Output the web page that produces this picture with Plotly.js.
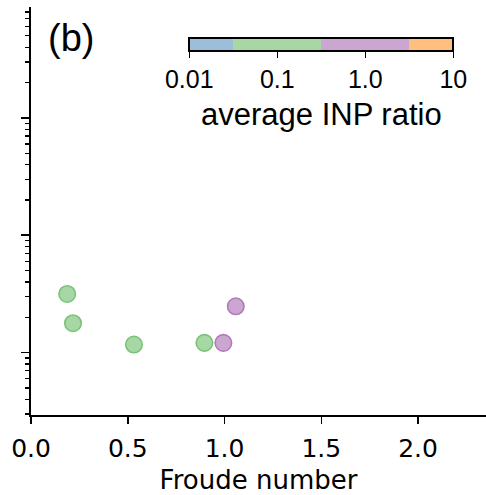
<!DOCTYPE html>
<html>
<head>
<meta charset="utf-8">
<script src="https://cdn.plot.ly/plotly-3.0.1.min.js"></script>
<style>html,body{margin:0;padding:0;background:#fff;}#chart{width:486px;height:495px;}</style>
</head>
<body>
<div id="chart"></div>
<script>
// Data
const froude = [0.187, 0.217, 0.532, 0.896, 0.994, 1.058];
const yValue = [3.16, 1.78, 1.17, 1.21, 1.21, 2.48];
const inpRatio = [0.1, 0.1, 0.1, 0.1, 1.0, 1.0]; // estimated from colour bins

// Colour bins (half-decade edges in log10) and colours
const binEdgesLog = [-2, -1.5, -0.5, 0.5, 1];
const binFill = ['#9bbedb', '#a6d7a4', '#cba6d1', '#ffbf7f'];
const binEdge = ['#699eca', '#79c377', '#b27aba', '#ff9f40'];
const cbTickVals = [-2, -1, 0, 1];
const cbTickText = ['0.01', '0.1', '1.0', '10'];
const xTickVals = [0, 0.5, 1, 1.5, 2];
const xTickText = ['0.0', '0.5', '1.0', '1.5', '2.0'];
const yMajor = [1, 10, 100];

const cmin = binEdgesLog[0], cmax = binEdgesLog[binEdgesLog.length - 1];
const colorscale = [];
for (let i = 0; i < binFill.length; i++) {
  colorscale.push([(binEdgesLog[i] - cmin) / (cmax - cmin), binFill[i]]);
  colorscale.push([(binEdgesLog[i + 1] - cmin) / (cmax - cmin), binFill[i]]);
}
const logRatio = inpRatio.map(v => Math.log10(v));
function binOf(l) {
  for (let i = 0; i < binFill.length; i++) if (l < binEdgesLog[i + 1]) return i;
  return binFill.length - 1;
}
const lineColors = logRatio.map(l => binEdge[binOf(l)]);

const yMinor = [];
[0.1, 1, 10, 100, 1000].forEach(d => { for (let k = 2; k <= 9; k++) yMinor.push(k * d); });

const trace = {
  type: 'scatter', mode: 'markers', x: froude, y: yValue,
  marker: {
    size: 16.5, color: logRatio, cmin: cmin, cmax: cmax, colorscale: colorscale,
    line: {color: lineColors, width: 1.6},
    showscale: true,
    colorbar: {
      orientation: 'h', x: 0.638, xanchor: 'center', y: 0.924, yanchor: 'top',
      len: 0.58, lenmode: 'fraction', thickness: 13, thicknessmode: 'pixels',
      xpad: 0, ypad: 0, outlinewidth: 2, outlinecolor: '#000',
      tickmode: 'array', tickvals: cbTickVals, ticktext: cbTickText,
      ticks: 'outside', ticklen: 6, tickwidth: 1.5, tickcolor: '#000',
      tickfont: {family: 'Liberation Sans', size: 25, color: '#000'}
    }
  },
  hoverinfo: 'skip'
};

const layout = {
  width: 486, height: 495,
  margin: {l: 31, r: 0, t: 7, b: 80},
  paper_bgcolor: '#fff', plot_bgcolor: '#fff',
  showlegend: false,
  xaxis: {
    range: [0, 2.351], tickmode: 'array', tickvals: xTickVals, ticktext: xTickText,
    ticks: 'outside', ticklen: 7, tickwidth: 1.5, tickcolor: '#000', ticklabelstandoff: 3,
    showline: true, linewidth: 1.8, linecolor: '#000', showgrid: false, zeroline: false,
    tickfont: {family: 'DejaVu Sans', size: 25, color: '#000'},
    title: {text: 'Froude number', font: {family: 'DejaVu Sans', size: 26, color: '#000'}, standoff: 14}
  },
  yaxis: {
    type: 'log', range: [-0.532, 2.945], tickmode: 'array', tickvals: yMajor,
    showticklabels: false, ticks: 'outside', ticklen: 8, tickwidth: 1.6, tickcolor: '#000',
    minor: {tickmode: 'array', tickvals: yMinor, ticks: 'outside', ticklen: 4.5, tickwidth: 1.2, tickcolor: '#000', showgrid: false},
    showline: true, linewidth: 1.8, linecolor: '#000', showgrid: false, zeroline: false
  },
  annotations: [{
    text: '(b)', xref: 'paper', yref: 'paper', x: 0.034, y: 0.925, xanchor: 'left', yanchor: 'middle',
    showarrow: false, font: {family: 'Liberation Sans', size: 38, color: '#000'}
  }, {
    text: 'average INP ratio', xref: 'paper', yref: 'paper', x: 0.639, y: 0.736, xanchor: 'center', yanchor: 'middle',
    showarrow: false, font: {family: 'Liberation Sans', size: 31, color: '#000'}
  }]
};

Plotly.newPlot('chart', [trace], layout, {displayModeBar: false, staticPlot: true});
</script>
</body>
</html>
